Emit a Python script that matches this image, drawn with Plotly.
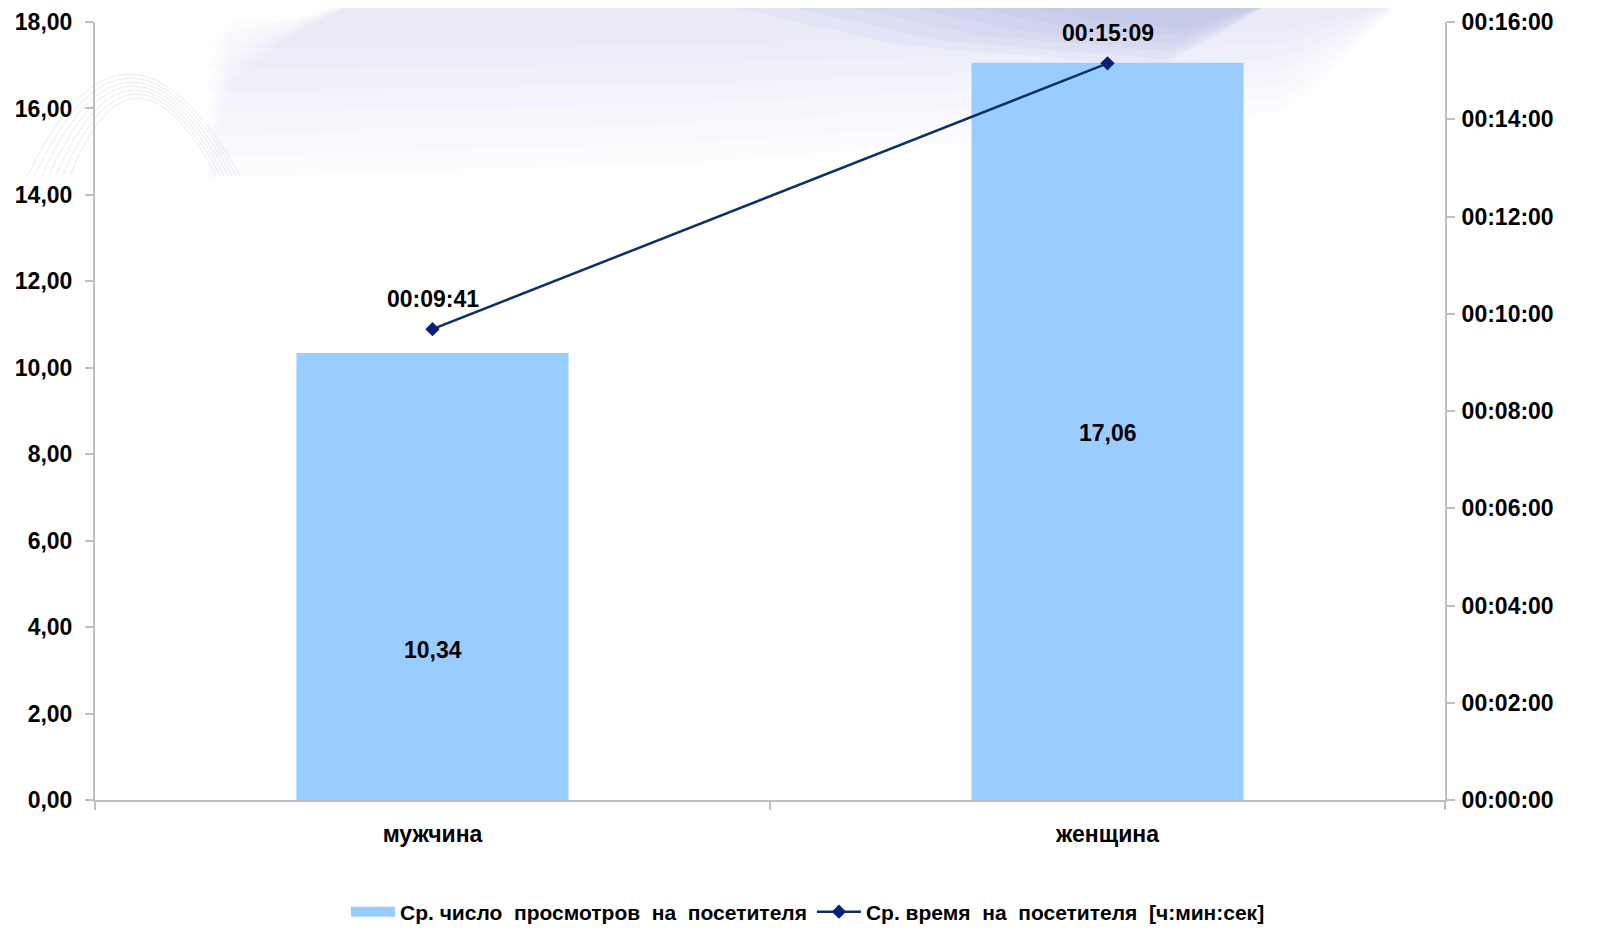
import plotly.graph_objects as go

categories = ["мужчина", "женщина"]
views = [10.34, 17.06]
times = ["00:09:41", "00:15:09"]
left_ticks = [0, 2, 4, 6, 8, 10, 12, 14, 16, 18]
right_ticks = ["00:00:00", "00:02:00", "00:04:00", "00:06:00", "00:08:00",
               "00:10:00", "00:12:00", "00:14:00", "00:16:00"]
bar_name = "Ср. число\u00a0 просмотров\u00a0 на\u00a0 посетителя"
line_name = "Ср. время\u00a0 на\u00a0 посетителя\u00a0 [ч:мин:сек]"

# style: vertical placement of the bar value labels (fraction of bar height)
label_frac = [0.336, 0.498]


def to_sec(s):
    h, m, x = (int(v) for v in s.split(":"))
    return h * 3600 + m * 60 + x


time_sec = [to_sec(t) for t in times]
right_vals = [to_sec(t) for t in right_ticks]

FONT = "Liberation Sans, Arial, sans-serif"
AX = "#BFBFBF"
BAR = "#99CCFF"
LINE = "#0D2F66"
TF = dict(family=FONT, size=23, color="black", weight="bold")

# page offset compensation (body margin of 8px)
OFF = 8
W, H = 1610 - OFF, 949 - OFF
L, T, R, B = 95 - OFF, 22 - OFF, 165, 149
PW, PH = W - L - R, H - T - B

fig = go.Figure()
fig.add_trace(go.Bar(
    x=categories, y=views, name=bar_name, showlegend=False,
    marker=dict(color=BAR, line=dict(width=0)),
))
# legend proxy for the bar series (wide swatch as in the original)
fig.add_trace(go.Scatter(
    x=[None], y=[None], name=bar_name, mode="lines",
    line=dict(color=BAR, width=13),
))
fig.add_trace(go.Scatter(
    x=categories, y=time_sec, name=line_name, yaxis="y2",
    mode="lines+markers",
    line=dict(color=LINE, width=2.5),
    marker=dict(symbol="diamond", size=11, color="#0A1F7A"),
))

annotations = []
for c, v, f in zip(categories, views, label_frac):
    annotations.append(dict(x=c, y=v * f, xref="x", yref="y",
                            text=f"{v:.2f}".replace(".", ","),
                            showarrow=False, font=TF))
for c, s, t in zip(categories, time_sec, times):
    annotations.append(dict(x=c, y=s, xref="x", yref="y2", text=t,
                            showarrow=False, yshift=30, font=TF))


def P(x, y):
    # page pixel -> paper coords
    return f"{(x - OFF - L) / PW:.4f},{(PH - (y - OFF - T)) / PH:.4f}"


def poly(pts):
    return "M " + " L ".join(P(x, y) for x, y in pts) + " Z"


shapes = []


def add(pts, col):
    shapes.append(dict(type="path", xref="paper", yref="paper", layer="below",
                       path=poly(pts), fillcolor=col, line=dict(width=0)))


# faint decorative ribbon: stacked translucent layers give a soft fade downwards
n = 7
for k in range(n):
    t = k / n
    low = lambda y: 0 + (y - 0) * (1 - t * 0.85)
    pts = [(360, 0), (300, 30 * (1 - t * 0.5)), (230, low(80)), (205, low(178)),
           (700, low(162)), (1100, low(132)), (1286, low(110)), (1400, 3), (1400, 0)]
    add(pts, "rgba(200,208,228,0.055)")
# bluer band towards the upper right
m = 6
for k in range(m):
    t = k / m
    pts = [(700 + 350 * t, 0), (900 + 250 * t, 45 * (1 - t * 0.6)),
           (1160 + 40 * t, 67 * (1 - t * 0.7)), (1277, 0)]
    add(pts, "rgba(150,170,220,0.09)")
# faint concentric arcs at upper left
for i in range(7):
    x0, x1 = 28 + i * 7, 240 - i * 4
    top = 38 + i * 8
    path = f"M {P(x0, 175)} Q {P((x0 + x1) / 2 - 10, top - 65)} {P(x1, 175)}"
    shapes.append(dict(type="path", xref="paper", yref="paper", layer="below",
                       path=path, line=dict(color="rgba(200,204,214,0.40)", width=1)))

fig.update_layout(
    width=W, height=H,
    margin=dict(l=L, r=R, t=T, b=B, autoexpand=False),
    paper_bgcolor="white", plot_bgcolor="rgba(0,0,0,0)",
    bargap=0.597,
    showlegend=True,
    legend=dict(orientation="h", x=(808 - 95) / PW, xanchor="center",
                y=-(912 - 800) / PH, yanchor="middle",
                font=dict(family=FONT, size=21, color="black", weight="bold"),
                traceorder="normal", itemwidth=44, bgcolor="rgba(0,0,0,0)"),
    font=dict(family=FONT, color="black"),
    annotations=annotations,
    shapes=shapes,
    xaxis=dict(showline=True, linecolor=AX, linewidth=2, ticks="outside",
               tickson="boundaries", ticklen=8, tickcolor=AX, tickwidth=2,
               ticklabelstandoff=12, automargin=False,
               tickfont=dict(family=FONT, size=23, weight="bold", color="black"),
               showgrid=False, zeroline=False),
    yaxis=dict(range=[0, 18], tickvals=left_ticks,
               ticktext=[f"{v:.2f}".replace(".", ",") for v in left_ticks],
               showline=True, linecolor=AX, linewidth=2, ticks="outside",
               ticklen=8, tickcolor=AX, tickwidth=2, automargin=False,
               ticklabelstandoff=8,
               tickfont=dict(family=FONT, size=23, weight="bold", color="black"),
               showgrid=False, zeroline=False),
    yaxis2=dict(range=[0, 960], tickvals=right_vals, ticktext=right_ticks,
                overlaying="y", side="right",
                showline=True, linecolor=AX, linewidth=2, ticks="outside",
                ticklen=8, tickcolor=AX, tickwidth=2, automargin=False,
                ticklabelstandoff=2,
                tickfont=dict(family=FONT, size=23, weight="bold", color="black"),
                showgrid=False, zeroline=False),
)

fig.write_html("out.html")
